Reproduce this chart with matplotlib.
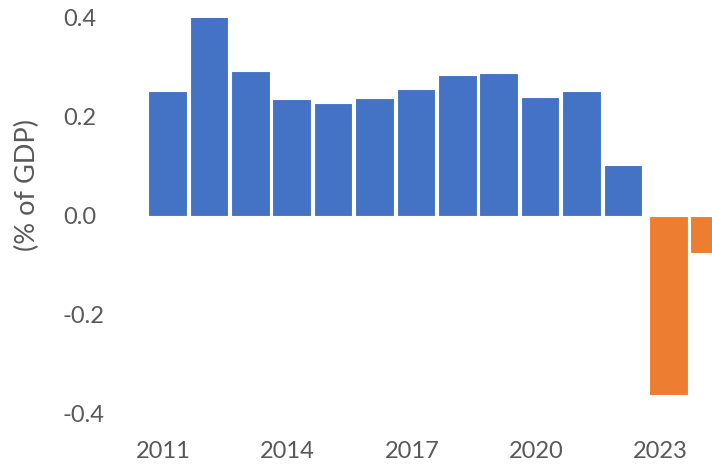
import matplotlib
matplotlib.use("Agg")
import matplotlib.pyplot as plt
import matplotlib.transforms as mtransforms

# Annual balance, % of GDP
years = [2011, 2012, 2013, 2014, 2015, 2016, 2017, 2018, 2019, 2020, 2021, 2022, 2023, 2024]
values = [0.253, 0.405, 0.293, 0.235, 0.228, 0.237, 0.256, 0.285, 0.289, 0.241, 0.253, 0.103, -0.364, -0.075]
tick_years = [2011, 2014, 2017, 2020, 2023]
y_ticks = [-0.4, -0.2, 0.0, 0.2, 0.4]
y_label = "(% of GDP)"

BLUE = "#4472C4"
ORANGE = "#ED7D31"
TEXT = "#595959"

plt.rcParams["font.family"] = ["Lato", "DejaVu Sans"]

W, H = 712, 466
fig = plt.figure(figsize=(W / 100, H / 100), dpi=100)

# axes span 2010.5..2024.5 horizontally; right end runs past the figure edge
px_per_year = 41.4
left_px = 146.8
ax = fig.add_axes([left_px / W, 1 - 413 / H, 14 * px_per_year / W, 395 / H])

hist_years = [y for y in years if y < 2023]
hist_vals = values[:len(hist_years)]
proj_years = years[len(hist_years):]
proj_vals = values[len(hist_years):]

ax.bar(hist_years, hist_vals, width=0.93, color=BLUE, edgecolor="white", linewidth=0.8, zorder=2)
# second series sits a few pixels to the right of the first
nudge = mtransforms.ScaledTranslation(4 / 100, 0, fig.dpi_scale_trans)
proj = ax.bar(proj_years, proj_vals, width=0.93, color=ORANGE, edgecolor="white", linewidth=0.8, zorder=2)
for p in proj:
    p.set_transform(ax.transData + nudge)

ax.set_xlim(2010.5, 2024.5)
ax.set_ylim(-0.4, 0.4)

for s in ax.spines.values():
    s.set_visible(False)

ax.set_xticks(tick_years)
ax.set_xticklabels([str(y) for y in tick_years])
ax.set_yticks(y_ticks)
ax.set_yticklabels([f"{v:.1f}" for v in y_ticks])
ax.tick_params(axis="both", length=0, colors=TEXT, labelsize=17)
ax.tick_params(axis="y", pad=60.5)
ax.tick_params(axis="x", pad=20)
for lbl in ax.get_yticklabels():
    lbl.set_horizontalalignment("left")
shift = mtransforms.ScaledTranslation(-4 / 100, 0, fig.dpi_scale_trans)
for lbl in ax.get_xticklabels():
    lbl.set_transform(lbl.get_transform() + shift)

fig.text(27 / W, 1 - 185 / H, y_label, rotation=90, color=TEXT, fontsize=19.5,
         ha="center", va="center")

fig.savefig("out.png", dpi=100)
